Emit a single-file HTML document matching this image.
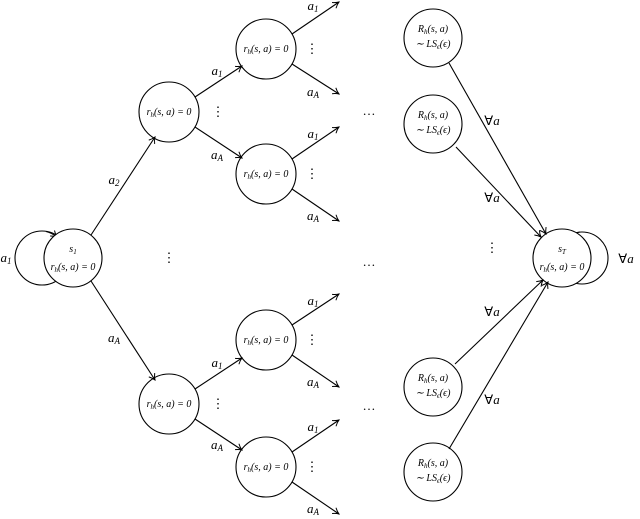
<!DOCTYPE html>
<html><head><meta charset="utf-8"><style>
html,body{margin:0;padding:0;background:#fff;}
svg{display:block;}
text{font-family:"Liberation Serif",serif;fill:#000;}
.n{font-size:10px;font-style:italic;font-family:"Liberation Serif",serif;}
.l{font-size:13px;font-style:italic;font-family:"Liberation Serif",serif;}
.d{font-size:13px;font-family:"Liberation Serif",serif;}
</style></head><body>
<svg width="640" height="519" viewBox="0 0 640 519" xmlns="http://www.w3.org/2000/svg">
<defs><marker id="ar" markerWidth="8" markerHeight="8" refX="7" refY="4" orient="auto" markerUnits="userSpaceOnUse">
<path d="M1,0.5 Q4,3 7,4 Q4,5 1,7.5" fill="none" stroke="#000" stroke-width="1"/></marker></defs>
<g fill="none" stroke="#000" stroke-width="1.1">
<!-- loops -->
<circle cx="42" cy="258" r="27"/>
<path d="M46,231.5 Q52,233 57,237" marker-end="url(#ar)"/>
<circle cx="582" cy="258" r="26"/>
<path d="M580,232 Q574,233 570,237" marker-end="url(#ar)"/>
<!-- nodes -->
<circle cx="73" cy="258" r="29" fill="#fff"/>
<circle cx="169" cy="112" r="30"/>
<circle cx="169" cy="404" r="30"/>
<circle cx="266" cy="49" r="30"/>
<circle cx="266" cy="174" r="30"/>
<circle cx="266" cy="340" r="30"/>
<circle cx="266" cy="467" r="30"/>
<circle cx="433" cy="38" r="29"/>
<circle cx="433" cy="124" r="29"/>
<circle cx="433" cy="387" r="29"/>
<circle cx="433" cy="472" r="29"/>
<circle cx="562" cy="258" r="29" fill="#fff"/>
<!-- edges -->
<line x1="91" y1="235" x2="155" y2="137" marker-end="url(#ar)"/>
<line x1="91" y1="281" x2="155" y2="380" marker-end="url(#ar)"/>
<line x1="195" y1="97" x2="242" y2="66" marker-end="url(#ar)"/>
<line x1="195" y1="127" x2="242" y2="158" marker-end="url(#ar)"/>
<line x1="195" y1="389" x2="242" y2="358" marker-end="url(#ar)"/>
<line x1="195" y1="419" x2="242" y2="450" marker-end="url(#ar)"/>
<line x1="292" y1="34" x2="339" y2="2" marker-end="url(#ar)"/>
<line x1="292" y1="64" x2="339" y2="94" marker-end="url(#ar)"/>
<line x1="292" y1="159" x2="339" y2="127" marker-end="url(#ar)"/>
<line x1="292" y1="189" x2="339" y2="221" marker-end="url(#ar)"/>
<line x1="292" y1="325" x2="339" y2="294" marker-end="url(#ar)"/>
<line x1="292" y1="355" x2="339" y2="387" marker-end="url(#ar)"/>
<line x1="292" y1="452" x2="339" y2="420" marker-end="url(#ar)"/>
<line x1="292" y1="482" x2="339" y2="514" marker-end="url(#ar)"/>
<line x1="449" y1="63" x2="546" y2="234" marker-end="url(#ar)"/>
<line x1="456" y1="147" x2="541" y2="237" marker-end="url(#ar)"/>
<line x1="455" y1="364" x2="543" y2="280" marker-end="url(#ar)"/>
<line x1="449" y1="449" x2="548" y2="282" marker-end="url(#ar)"/>
</g>
<g text-anchor="middle">
<text class="n" x="73" y="252">s<tspan font-size="7" dy="2">1</tspan></text>
<text class="n" x="73" y="270">r<tspan font-size="7" dy="2">h</tspan><tspan dy="-2">(s, a) = 0</tspan></text>
<text class="n" x="562" y="252">s<tspan font-size="7" dy="2">T</tspan></text>
<text class="n" x="562" y="270">r<tspan font-size="7" dy="2">h</tspan><tspan dy="-2">(s, a) = 0</tspan></text>
<g class="n">
<text x="169" y="115">r<tspan font-size="7" dy="2">h</tspan><tspan dy="-2">(s, a) = 0</tspan></text>
<text x="169" y="407">r<tspan font-size="7" dy="2">h</tspan><tspan dy="-2">(s, a) = 0</tspan></text>
<text x="266" y="52">r<tspan font-size="7" dy="2">h</tspan><tspan dy="-2">(s, a) = 0</tspan></text>
<text x="266" y="177">r<tspan font-size="7" dy="2">h</tspan><tspan dy="-2">(s, a) = 0</tspan></text>
<text x="266" y="343">r<tspan font-size="7" dy="2">h</tspan><tspan dy="-2">(s, a) = 0</tspan></text>
<text x="266" y="470">r<tspan font-size="7" dy="2">h</tspan><tspan dy="-2">(s, a) = 0</tspan></text>
<text x="433" y="32">R<tspan font-size="7" dy="2">h</tspan><tspan dy="-2">(s, a)</tspan></text>
<text x="433" y="47">∼ LS<tspan font-size="7" dy="2">ϵ</tspan><tspan dy="-2">(ϵ)</tspan></text>
<text x="433" y="118">R<tspan font-size="7" dy="2">h</tspan><tspan dy="-2">(s, a)</tspan></text>
<text x="433" y="133">∼ LS<tspan font-size="7" dy="2">ϵ</tspan><tspan dy="-2">(ϵ)</tspan></text>
<text x="433" y="381">R<tspan font-size="7" dy="2">h</tspan><tspan dy="-2">(s, a)</tspan></text>
<text x="433" y="396">∼ LS<tspan font-size="7" dy="2">ϵ</tspan><tspan dy="-2">(ϵ)</tspan></text>
<text x="433" y="466">R<tspan font-size="7" dy="2">h</tspan><tspan dy="-2">(s, a)</tspan></text>
<text x="433" y="481">∼ LS<tspan font-size="7" dy="2">ϵ</tspan><tspan dy="-2">(ϵ)</tspan></text>
</g>
<g class="l">
<text x="6" y="262">a<tspan font-size="9" dy="2">1</tspan></text>
<text x="114" y="184">a<tspan font-size="9" dy="2">2</tspan></text>
<text x="114" y="342">a<tspan font-size="9" dy="2">A</tspan></text>
<text x="217" y="75">a<tspan font-size="9" dy="2">1</tspan></text>
<text x="217" y="159">a<tspan font-size="9" dy="2">A</tspan></text>
<text x="217" y="367">a<tspan font-size="9" dy="2">1</tspan></text>
<text x="217" y="449">a<tspan font-size="9" dy="2">A</tspan></text>
<text x="313" y="10">a<tspan font-size="9" dy="2">1</tspan></text>
<text x="313" y="96">a<tspan font-size="9" dy="2">A</tspan></text>
<text x="313" y="138">a<tspan font-size="9" dy="2">1</tspan></text>
<text x="313" y="220">a<tspan font-size="9" dy="2">A</tspan></text>
<text x="313" y="305">a<tspan font-size="9" dy="2">1</tspan></text>
<text x="313" y="386">a<tspan font-size="9" dy="2">A</tspan></text>
<text x="313" y="431">a<tspan font-size="9" dy="2">1</tspan></text>
<text x="313" y="513">a<tspan font-size="9" dy="2">A</tspan></text>
</g>
<g font-size="13" font-family="'Liberation Serif','DejaVu Serif',serif">
<text x="492" y="125">∀<tspan font-style="italic">a</tspan></text>
<text x="492" y="202">∀<tspan font-style="italic">a</tspan></text>
<text x="492" y="316">∀<tspan font-style="italic">a</tspan></text>
<text x="492" y="404">∀<tspan font-style="italic">a</tspan></text>
<text x="626" y="263">∀<tspan font-style="italic">a</tspan></text>
</g>
<g class="d">
<text x="169" y="262">⋮</text>
<text x="218" y="116">⋮</text>
<text x="218" y="408">⋮</text>
<text x="312" y="53">⋮</text>
<text x="312" y="178">⋮</text>
<text x="312" y="344">⋮</text>
<text x="312" y="471">⋮</text>
<text x="492" y="252">⋮</text>
<text x="369" y="115">…</text>
<text x="369" y="266">…</text>
<text x="369" y="410">…</text>
</g>
</g>
</svg>
</body></html>
